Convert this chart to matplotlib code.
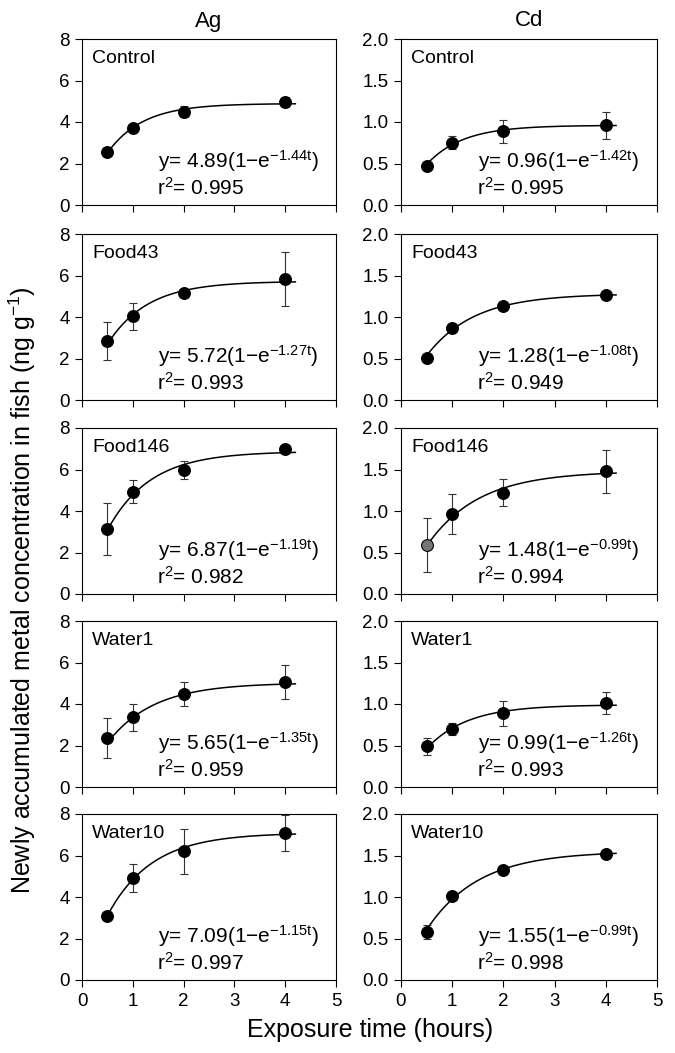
import numpy as np
import matplotlib
matplotlib.use('Agg')
import matplotlib.pyplot as plt

plt.rcParams['font.family'] = ['Liberation Sans', 'DejaVu Sans']
plt.rcParams['mathtext.default'] = 'regular'

# data
times = [0.5, 1, 2, 4]
treatments = ['Control', 'Food43', 'Food146', 'Water1', 'Water10']

ag_mean = [[2.57, 3.72, 4.50, 4.97],
           [2.85, 4.03, 5.15, 5.83],
           [3.13, 4.93, 5.97, 7.00],
           [2.35, 3.35, 4.48, 5.05],
           [3.08, 4.93, 6.20, 7.10]]
ag_err = [[0.20, 0.12, 0.28, 0.25],
          [0.90, 0.65, 0.10, 1.30],
          [1.25, 0.55, 0.45, 0.10],
          [0.97, 0.65, 0.57, 0.83],
          [0.10, 0.67, 1.10, 0.87]]
cd_mean = [[0.47, 0.75, 0.89, 0.96],
           [0.51, 0.87, 1.13, 1.27],
           [0.59, 0.96, 1.22, 1.48],
           [0.49, 0.70, 0.89, 1.01],
           [0.58, 1.01, 1.32, 1.52]]
cd_err = [[0.03, 0.08, 0.14, 0.16],
          [0.02, 0.03, 0.04, 0.03],
          [0.32, 0.24, 0.16, 0.26],
          [0.10, 0.07, 0.15, 0.13],
          [0.08, 0.04, 0.04, 0.03]]

# equation labels as printed
ag_A = ['4.89', '5.72', '6.87', '5.65', '7.09']
ag_k = ['1.44', '1.27', '1.19', '1.35', '1.15']
ag_r2 = ['0.995', '0.993', '0.982', '0.959', '0.997']
cd_A = ['0.96', '1.28', '1.48', '0.99', '1.55']
cd_k = ['1.42', '1.08', '0.99', '1.26', '0.99']
cd_r2 = ['0.995', '0.949', '0.994', '0.993', '0.998']

# fitted curves as drawn (Ag Water1 curve drawn lower than its printed A)
ag_curve_A = [4.89, 5.72, 6.87, 5.02, 7.09]
ag_curve_k = [1.44, 1.27, 1.19, 1.10, 1.15]
cd_curve_A = [0.96, 1.28, 1.48, 0.99, 1.55]
cd_curve_k = [1.42, 1.08, 0.99, 1.26, 0.99]

fig = plt.figure(figsize=(6.75, 10.53), dpi=100)
W, H = 675, 1053
tops = [39, 234, 428, 621, 814]
ph = 166
lefts = [82, 401]
pw = [254, 256]

tt = np.linspace(0.5, 4.2, 200)

for r in range(5):
    for c in range(2):
        ax = fig.add_axes([lefts[c] / W, 1 - (tops[r] + ph) / H, pw[c] / W, ph / H])
        if c == 0:
            m, e = ag_mean[r], ag_err[r]
            A, k, r2 = ag_A[r], ag_k[r], ag_r2[r]
            cA, ck = ag_curve_A[r], ag_curve_k[r]
            ax.set_ylim(0, 8)
            ax.set_yticks([0, 2, 4, 6, 8])
        else:
            m, e = cd_mean[r], cd_err[r]
            A, k, r2 = cd_A[r], cd_k[r], cd_r2[r]
            cA, ck = cd_curve_A[r], cd_curve_k[r]
            ax.set_ylim(0, 2)
            ax.set_yticks([0, 0.5, 1.0, 1.5, 2.0])
            ax.set_yticklabels(['0.0', '0.5', '1.0', '1.5', '2.0'])
        ax.set_xlim(0, 5)
        ax.set_xticks([0, 1, 2, 3, 4, 5])
        if r < 4:
            ax.set_xticklabels([])
        ax.plot(tt, cA * (1 - np.exp(-ck * tt)), color='black', lw=1.1, zorder=2)
        ax.errorbar(times, m, yerr=e, fmt='none', ecolor='#333333', elinewidth=0.8,
                    capsize=3, capthick=0.8, zorder=3)
        fc = ['black'] * 4
        if c == 1 and r == 2:
            fc[0] = '#777777'
        for t, y, f in zip(times, m, fc):
            ax.plot(t, y, 'o', ms=8.5, mfc=f, mec='black', mew=0.8, zorder=4)
        ax.tick_params(direction='out', length=5, width=0.8, labelsize=13.5, pad=4,
                       top=False, right=False)
        for s in ax.spines.values():
            s.set_linewidth(0.8)
        ax.text(0.04, 0.88, treatments[r], transform=ax.transAxes, fontsize=14,
                va='center', ha='left')
        ax.text(0.30, 0.223, 'y= %s(1\u2212e$^{\u2212%st}$)' % (A, k),
                transform=ax.transAxes, fontsize=15, va='baseline', ha='left')
        ax.text(0.295, 0.062, 'r$^{2}$= ' + r2, transform=ax.transAxes,
                fontsize=15, va='baseline', ha='left')
        if r == 0:
            ax.set_title(['Ag', 'Cd'][c], fontsize=16, pad=9)

fig.text(0.033, 0.44, 'Newly accumulated metal concentration in fish (ng g$^{\u22121}$)',
         rotation=90, fontsize=18, ha='center', va='center')
fig.text(0.548, 0.022, 'Exposure time (hours)', fontsize=18, ha='center', va='center')

fig.savefig('out.png', dpi=100)
